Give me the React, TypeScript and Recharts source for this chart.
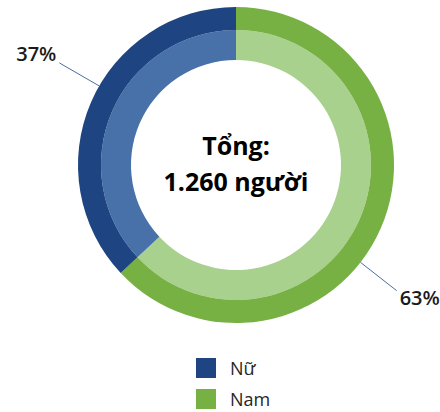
import React from "react";
import { PieChart, Pie, Cell, Legend } from "recharts";

const categories = ["Nam", "Nữ"];
const counts = [794, 466];
const totalLabel = ["Tổng:", "1.260 người"];
const outerColors = ["#77B043", "#1F4482"];
const innerColors = ["#A9D18E", "#4870A9"];
const legendOrder = ["Nữ", "Nam"];

const data = categories.map((name, i) => ({ name, value: counts[i] }));

const FONT = "'Open Sans', 'Noto Sans', sans-serif";
const RAD = Math.PI / 180;
// Excel-like label placement tweak (degrees) per slice
const LABEL_ANGLE_SHIFT = [-14.6, -6.6];

const renderLabel = (props: any) => {
  const { cx, cy, midAngle, outerRadius, percent, index } = props;
  const a = (midAngle + LABEL_ANGLE_SHIFT[index]) * RAD;
  const r1 = outerRadius;
  const r2 = outerRadius + 46;
  const x1 = cx + r1 * Math.cos(a);
  const y1 = cy - r1 * Math.sin(a);
  const x2 = cx + r2 * Math.cos(a);
  const y2 = cy - r2 * Math.sin(a);
  const right = Math.cos(a) >= 0;
  const below = Math.sin(a) < 0;
  return (
    <g key={`lbl-${index}`}>
      <line x1={x1} y1={y1} x2={x2} y2={y2} stroke="#4A6FA5" strokeWidth={1} />
      <text
        x={x2 + (right ? 3 : -3)}
        y={y2 + (below ? 7 : -9)}
        textAnchor={right ? "start" : "end"}
        dominantBaseline="central"
        fontFamily={FONT}
        fontSize={20}
        fontWeight={600}
        fill="#1a1a1a"
      >
        {`${Math.round(percent * 100)}%`}
      </text>
    </g>
  );
};

const renderCenter = (props: any) => {
  const { cx, cy, index } = props;
  if (index !== 0) return <g key={`c-${index}`} />;
  return (
    <text
      key="center"
      x={cx}
      y={cy}
      textAnchor="middle"
      fontFamily={FONT}
      fontSize={25}
      fontWeight={700}
      fill="#000"
    >
      <tspan x={cx} y={cy - 10}>{totalLabel[0]}</tspan>
      <tspan x={cx} y={cy + 26}>{totalLabel[1]}</tspan>
    </text>
  );
};

const renderLegend = () => (
  <div style={{ fontFamily: FONT, fontSize: 18, color: "#262626" }}>
    {legendOrder.map((name) => {
      const idx = categories.indexOf(name);
      return (
        <div
          key={name}
          style={{ display: "flex", alignItems: "center", height: 31 }}
        >
          <span
            style={{
              display: "inline-block",
              width: 20,
              height: 20,
              background: outerColors[idx],
              marginRight: 14,
            }}
          />
          <span>{name}</span>
        </div>
      );
    })}
  </div>
);

export default function App() {
  return (
    <div style={{ position: "absolute", left: 0, top: 0, width: 440, height: 412 }}>
      <PieChart width={440} height={412} margin={{ top: 0, right: 0, bottom: 0, left: 0 }}>
        <Pie
          data={data}
          dataKey="value"
          nameKey="name"
          cx={236}
          cy={165}
          innerRadius={105}
          outerRadius={135}
          startAngle={90}
          endAngle={-270}
          stroke="none"
          label={renderCenter}
          labelLine={false}
          isAnimationActive={false}
        >
          {data.map((d, i) => (
            <Cell key={d.name} fill={innerColors[i]} />
          ))}
        </Pie>
        <Pie
          data={data}
          dataKey="value"
          nameKey="name"
          cx={236}
          cy={165}
          innerRadius={135}
          outerRadius={158}
          startAngle={90}
          endAngle={-270}
          stroke="none"
          label={renderLabel}
          labelLine={false}
          isAnimationActive={false}
        >
          {data.map((d, i) => (
            <Cell key={d.name} fill={outerColors[i]} />
          ))}
        </Pie>
        <Legend
          content={renderLegend}
          wrapperStyle={{ position: "absolute", left: 196, top: 352, width: "auto", height: "auto" }}
        />
      </PieChart>
    </div>
  );
}
